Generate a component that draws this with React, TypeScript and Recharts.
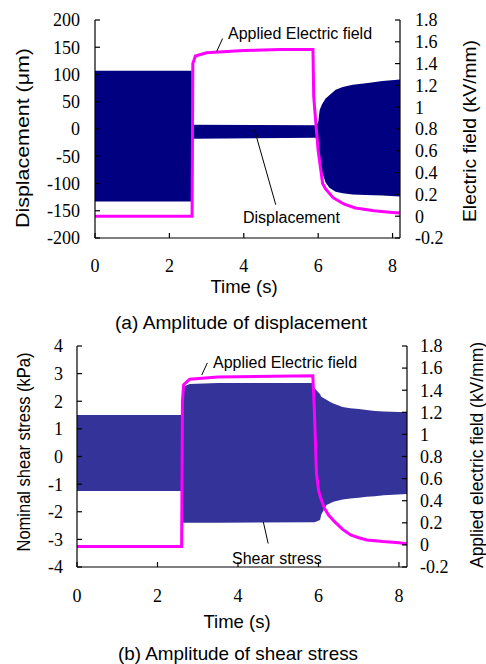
import React from "react"
import { ComposedChart, Area, Line, XAxis, YAxis, ReferenceLine } from "recharts"

// (a) displacement envelope, um
const dispTime = [0, 2.6, 2.61, 5.93, 6.0, 6.04, 6.1, 6.2, 6.3, 6.47, 6.66, 6.93, 7.28, 7.73, 8.2]
const dispTop = [107, 107, 8, 7, 12, 35, 45, 56, 62, 72, 77, 81, 84, 88, 91]
const dispBottom = [-133, -133, -18, -16, -30, -55, -78, -98, -108, -115, -118, -120, -121, -122, -124]

// (a) applied electric field, kV/mm
const fieldTimeA = [0, 2.61, 2.63, 2.7, 3.0, 4.0, 5.0, 5.86, 5.88, 5.95, 6.0, 6.04, 6.12, 6.2, 6.4, 6.7, 7.0, 7.5, 8.0, 8.2]
const fieldA = [0, 0, 1.4, 1.47, 1.5, 1.52, 1.53, 1.53, 1.1, 0.8, 0.6, 0.5, 0.3, 0.25, 0.17, 0.11, 0.075, 0.05, 0.035, 0.03]

// (b) shear stress envelope, kPa
const shearTime = [0, 2.6, 2.61, 2.68, 2.8, 3.5, 5.86, 5.9, 5.95, 6.04, 6.07, 6.2, 6.28, 6.37, 6.6, 6.79, 7.0, 7.2, 7.4, 7.62, 8.2]
const shearTop = [1.5, 1.5, 2.45, 2.55, 2.62, 2.66, 2.66, 2.48, 2.4, 2.25, 2.16, 2.05, 1.98, 1.92, 1.79, 1.75, 1.72, 1.68, 1.65, 1.63, 1.6]
const shearBottom = [-1.25, -1.25, -2.4, -2.4, -2.4, -2.4, -2.38, -2.38, -2.35, -2.3, -2.1, -1.76, -1.7, -1.64, -1.56, -1.52, -1.49, -1.46, -1.44, -1.4, -1.36]

// (b) applied electric field, kV/mm
const fieldTimeB = [0, 2.6, 2.62, 2.65, 2.8, 3.5, 5.86, 5.9, 5.95, 6.0, 6.05, 6.15, 6.25, 6.4, 6.6, 6.8, 7.0, 7.2, 7.6, 8.0, 8.2]
const fieldB = [-0.015, -0.015, 1.3, 1.45, 1.5, 1.52, 1.53, 1.2, 0.65, 0.5, 0.43, 0.33, 0.27, 0.21, 0.14, 0.09, 0.065, 0.045, 0.03, 0.02, 0.01]

const timeTicks = [0, 2, 4, 6, 8]
const dispTicks = [-200, -150, -100, -50, 0, 50, 100, 150, 200]
const shearTicks = [-4, -3, -2, -1, 0, 1, 2, 3, 4]
const fieldTicks = [-0.2, 0, 0.2, 0.4, 0.6, 0.8, 1, 1.2, 1.4, 1.6, 1.8]

const dispData = dispTime.map((t, i) => ({ t, range: [dispBottom[i], dispTop[i]] }))
const fieldDataA = fieldTimeA.map((t, i) => ({ t, field: fieldA[i] }))
const shearData = shearTime.map((t, i) => ({ t, range: [shearBottom[i], shearTop[i]] }))
const fieldDataB = fieldTimeB.map((t, i) => ({ t, field: fieldB[i] }))

const SERIF = "Liberation Serif"
const SANS = "Liberation Sans"
const axisLine = { stroke: "#000", strokeWidth: 1.2 }
const tickLine = { stroke: "#000", strokeWidth: 1.2 }
const fmt = (v: number) => String(Math.round(v * 10) / 10)

// serif tick labels at the spot recharts hands over
function SerifTick(props: any) {
  const { x, y, textAnchor, verticalAnchor, payload } = props
  const dy = verticalAnchor === "start" ? "0.71em" : "0.355em"
  return (
    <text x={x} y={y} dy={dy} textAnchor={textAnchor} fontFamily={SERIF} fontSize={18} fill="#000">
      {fmt(payload.value)}
    </text>
  )
}

function Panel({ top, height, leftW, rightW, leftDomain, leftTicks, bandData, bandColor, fieldData, leftMargin, rightMargin, bottomMargin, leaders }: any) {
  return (
    <div style={{ position: "absolute", left: 0, top }}>
      <ComposedChart width={486} height={height} margin={{ top: 20, right: 0, bottom: 0, left: 0 }}>
        <XAxis
          dataKey="t"
          type="number"
          domain={[0, 8.2]}
          ticks={timeTicks}
          allowDataOverflow
          height={50}
          tickSize={-5}
          tickMargin={bottomMargin}
          axisLine={axisLine}
          tickLine={tickLine}
          tick={(p: any) => <SerifTick {...p} />}
        />
        <XAxis xAxisId="top" orientation="top" type="number" domain={[0, 8.2]} height={0} tick={false} tickLine={false} axisLine={axisLine} />
        <YAxis
          yAxisId="right"
          orientation="right"
          type="number"
          domain={[-0.2, 1.8]}
          ticks={fieldTicks}
          width={rightW}
          tickSize={-5}
          tickMargin={rightMargin}
          axisLine={axisLine}
          tickLine={tickLine}
          tick={(p: any) => <SerifTick {...p} />}
          interval={0}
        />
        <YAxis
          yAxisId="left"
          type="number"
          domain={leftDomain}
          ticks={leftTicks}
          width={leftW}
          tickSize={-5}
          tickMargin={leftMargin}
          axisLine={axisLine}
          tickLine={tickLine}
          tick={(p: any) => <SerifTick {...p} />}
          interval={0}
        />
        <Area
          yAxisId="left"
          data={bandData}
          dataKey="range"
          type="linear"
          stroke="none"
          fill={bandColor}
          fillOpacity={1}
          isAnimationActive={false}
        />
        <Line
          yAxisId="right"
          data={fieldData}
          dataKey="field"
          type="linear"
          stroke="#ff00ff"
          strokeWidth={3}
          dot={false}
          isAnimationActive={false}
        />
        {leaders.map((seg: any, i: number) => (
          <ReferenceLine key={i} yAxisId="left" segment={seg} stroke="#000" strokeWidth={1} />
        ))}
      </ComposedChart>
    </div>
  )
}

export default function App() {
  return (
    <div style={{ position: "absolute", left: 0, top: 0, width: 486, height: 664, background: "#fff" }}>
      <Panel
        top={0}
        height={288}
        leftW={95}
        rightW={86}
        leftDomain={[-200, 200]}
        leftTicks={dispTicks}
        bandData={dispData}
        bandColor="#000080"
        fieldData={fieldDataA}
        leftMargin={20}
        rightMargin={20}
        bottomMargin={26}
        leaders={[
          [{ x: 3.27, y: 142 }, { x: 3.43, y: 166 }],
          [{ x: 4.29, y: -2 }, { x: 4.86, y: -139 }],
        ]}
      />
      <Panel
        top={326}
        height={291}
        leftW={77}
        rightW={79}
        leftDomain={[-4, 4]}
        leftTicks={shearTicks}
        bandData={shearData}
        bandColor="#333399"
        fieldData={fieldDataB}
        leftMargin={19}
        rightMargin={18}
        bottomMargin={27}
        leaders={[
          [{ x: 3.1, y: 2.95 }, { x: 3.24, y: 3.39 }],
          [{ x: 4.63, y: -2.37 }, { x: 4.75, y: -3.15 }],
        ]}
      />
      <svg width={486} height={664} style={{ position: "absolute", left: 0, top: 0, pointerEvents: "none" }} fontFamily={SANS} fill="#000">
        <text x={228} y={39} fontSize={16}>Applied Electric field</text>
        <text x={243} y={223} fontSize={16}>Displacement</text>
        <text x={213} y={368} fontSize={16}>Applied Electric field</text>
        <text x={232} y={564} fontSize={16}>Shear stress</text>

        <text x={244} y={293} fontSize={18.5} textAnchor="middle">Time (s)</text>
        <text x={237} y={628} fontSize={18.5} textAnchor="middle">Time (s)</text>
        <text x={115} y={329} fontSize={19} textLength={252} lengthAdjust="spacingAndGlyphs">(a) Amplitude of displacement</text>
        <text x={118} y={660} fontSize={19} textLength={240} lengthAdjust="spacingAndGlyphs">(b) Amplitude of shear stress</text>

        <text transform="translate(29,138) rotate(-90)" fontSize={18} textAnchor="middle" textLength={180} lengthAdjust="spacingAndGlyphs">Displacement (μm)</text>
        <text transform="translate(476,131) rotate(-90)" fontSize={18} textAnchor="middle" textLength={182} lengthAdjust="spacingAndGlyphs">Electric field (kV/mm)</text>
        <text transform="translate(30,452) rotate(-90)" fontSize={18} textAnchor="middle" textLength={199} lengthAdjust="spacingAndGlyphs">Nominal shear stress (kPa)</text>
        <text transform="translate(483,455) rotate(-90)" fontSize={18} textAnchor="middle" textLength={226} lengthAdjust="spacingAndGlyphs">Applied electric field (kV/mm)</text>
      </svg>
    </div>
  )
}
